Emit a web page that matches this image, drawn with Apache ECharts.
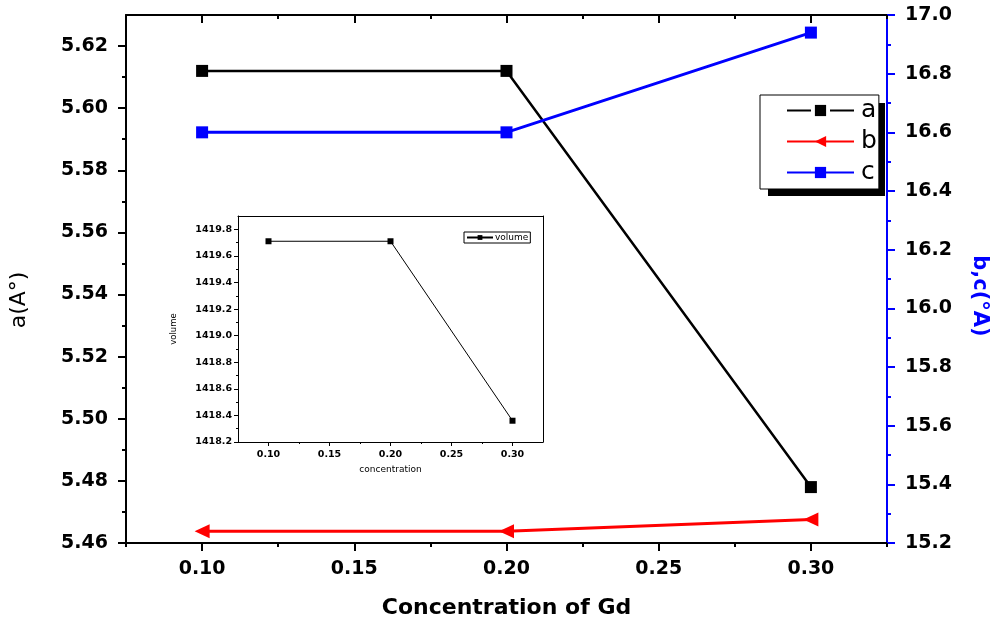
<!DOCTYPE html>
<html>
<head>
<meta charset="utf-8">
<title>Lattice parameters vs Gd concentration</title>
<script src="https://cdn.jsdelivr.net/npm/echarts@6/dist/echarts.min.js"></script>
<style>
  html, body { margin: 0; padding: 0; background: #fff; }
  #chart { width: 1000px; height: 627px; }
</style>
</head>
<body>
<div id="chart"></div>
<script>
// Gd concentration (x) and lattice parameters
const concentration = [0.10, 0.20, 0.30];
const latticeA = [5.612, 5.612, 5.478];
const latticeB = [15.24, 15.24, 15.28];
const latticeC = [16.60, 16.60, 16.94];
const cellVolume = [1419.71, 1419.71, 1418.36];

// Tick positions
const xMajorTicks = [0.10, 0.15, 0.20, 0.25, 0.30];
const xMinorTicks = [0.075, 0.125, 0.175, 0.225, 0.275, 0.325];
const aMajorTicks = [5.46, 5.48, 5.50, 5.52, 5.54, 5.56, 5.58, 5.60, 5.62];
const aMinorTicks = [5.47, 5.49, 5.51, 5.53, 5.55, 5.57, 5.59, 5.61];
const bcMajorTicks = [15.2, 15.4, 15.6, 15.8, 16.0, 16.2, 16.4, 16.6, 16.8, 17.0];
const bcMinorTicks = [15.3, 15.5, 15.7, 15.9, 16.1, 16.3, 16.5, 16.7, 16.9];
const volMajorTicks = [1418.2, 1418.4, 1418.6, 1418.8, 1419.0, 1419.2, 1419.4, 1419.6, 1419.8];
const volMinorTicks = [1418.3, 1418.5, 1418.7, 1418.9, 1419.1, 1419.3, 1419.5, 1419.7];
const insetXMinorTicks = [0.125, 0.175, 0.225, 0.275];

const FONT = 'DejaVu Sans';
const pairs = (xs, ys) => xs.map((x, i) => [x, ys[i]]);

// Builds a value axis; ticks/labels come from explicit value lists
function axis(o) {
  return {
    type: 'value',
    gridIndex: o.grid,
    position: o.position,
    min: o.min,
    max: o.max,
    name: o.name || '',
    nameLocation: 'middle',
    nameGap: o.nameGap,
    nameRotate: o.nameRotate,
    nameTextStyle: o.nameTextStyle,
    axisLine: { show: o.line !== false, onZero: false,
      lineStyle: { color: o.color || '#000', width: o.lineWidth || 2 } },
    axisTick: o.ticks ? { show: true, customValues: o.ticks, inside: !!o.inside,
      length: o.tickLen, lineStyle: { color: o.color || '#000', width: o.tickWidth || 2 } }
      : { show: false },
    axisLabel: o.labels ? { show: true, customValues: o.labels, margin: o.margin,
      formatter: v => v.toFixed(o.digits),
      color: '#000', fontFamily: FONT, fontWeight: 'bold', fontSize: o.fontSize }
      : { show: false },
    splitLine: { show: false },
    minorTick: { show: false },
    minorSplitLine: { show: false }
  };
}

const chart = echarts.init(document.getElementById('chart'), null, { renderer: 'canvas' });

const option = {
  backgroundColor: '#fff',
  animation: false,
  grid: [
    { left: 126, right: 113, top: 15, bottom: 84, containLabel: false },
    { left: 238, top: 216, width: 305, height: 226, containLabel: false,
      show: true, backgroundColor: '#fff', borderWidth: 0 }
  ],
  // solid drop shadow behind the main legend box
  graphic: [
    { type: 'rect', z: 1, silent: true,
      shape: { x: 768, y: 103, width: 117, height: 93 },
      style: { fill: '#000' } }
  ],
  xAxis: [
    // main plot
    axis({ grid: 0, position: 'bottom', min: 0.075, max: 0.325, ticks: xMajorTicks, tickLen: 8,
      labels: xMajorTicks, digits: 2, margin: 17, fontSize: 19,
      name: 'Concentration of Gd', nameGap: 54,
      nameTextStyle: { fontFamily: FONT, fontWeight: 'bold', fontSize: 22, color: '#000' } }),
    axis({ grid: 0, position: 'bottom', min: 0.075, max: 0.325, line: false, ticks: xMinorTicks, tickLen: 4 }),
    axis({ grid: 0, position: 'top', min: 0.075, max: 0.325, ticks: xMajorTicks, tickLen: 8, inside: true }),
    axis({ grid: 0, position: 'top', min: 0.075, max: 0.325, line: false, ticks: xMinorTicks, tickLen: 4, inside: true }),
    // inset
    axis({ grid: 1, position: 'bottom', min: 0.075, max: 0.325, lineWidth: 1, tickWidth: 1,
      ticks: xMajorTicks, tickLen: 4, labels: xMajorTicks, digits: 2, margin: 8, fontSize: 9.5,
      name: 'concentration', nameGap: 23,
      nameTextStyle: { fontFamily: FONT, fontSize: 9, color: '#000' } }),
    axis({ grid: 1, position: 'bottom', min: 0.075, max: 0.325, line: false, tickWidth: 1,
      ticks: insetXMinorTicks, tickLen: 2 }),
    axis({ grid: 1, position: 'top', min: 0.075, max: 0.325, lineWidth: 1 })
  ],
  yAxis: [
    // main plot, left: a  (padding on the text's far end nudges it downwards)
    axis({ grid: 0, position: 'left', min: 5.46, max: 5.63, ticks: aMajorTicks, tickLen: 8,
      labels: aMajorTicks, digits: 2, margin: 18, fontSize: 19,
      name: 'a(A\u00B0)', nameGap: 96, nameRotate: 90,
      nameTextStyle: { fontFamily: FONT, fontSize: 22, color: '#000', padding: [0, 42, 0, 0] } }),
    axis({ grid: 0, position: 'left', min: 5.46, max: 5.63, line: false, ticks: aMinorTicks, tickLen: 4 }),
    // main plot, right: b, c
    axis({ grid: 0, position: 'right', min: 15.2, max: 17.0, color: '#0000ff',
      ticks: bcMajorTicks, tickLen: 8, labels: bcMajorTicks, digits: 1, margin: 18, fontSize: 19,
      name: 'b,c(\u00B0A)', nameGap: 82, nameRotate: -90,
      nameTextStyle: { fontFamily: FONT, fontWeight: 'bold', fontSize: 21, color: '#0000ff',
        padding: [0, 0, 0, 34] } }),
    axis({ grid: 0, position: 'right', min: 15.2, max: 17.0, line: false, color: '#0000ff',
      ticks: bcMinorTicks, tickLen: 4 }),
    // inset
    axis({ grid: 1, position: 'left', min: 1418.2, max: 1419.9, lineWidth: 1, tickWidth: 1,
      ticks: volMajorTicks, tickLen: 4, labels: volMajorTicks, digits: 1, margin: 6, fontSize: 9.5,
      name: 'volume', nameGap: 60, nameRotate: 90,
      nameTextStyle: { fontFamily: FONT, fontSize: 8.5, color: '#000' } }),
    axis({ grid: 1, position: 'left', min: 1418.2, max: 1419.9, line: false, tickWidth: 1,
      ticks: volMinorTicks, tickLen: 2 }),
    axis({ grid: 1, position: 'right', min: 1418.2, max: 1419.9, lineWidth: 1 })
  ],
  legend: [
    {
      data: [
        { name: 'a', lineStyle: { type: [24, 19] } },
        { name: 'b' },
        { name: 'c' }
      ],
      orient: 'vertical',
      left: 760, top: 95,
      z: 5,
      padding: [3, 2, 4, 26],
      itemGap: 6,
      itemWidth: 67, itemHeight: 14,
      backgroundColor: '#fff',
      borderColor: '#000', borderWidth: 1, borderRadius: 0,
      textStyle: { fontFamily: FONT, fontSize: 25, color: '#000', padding: [0, 0, 0, 2] }
    },
    {
      data: ['volume'],
      orient: 'horizontal',
      left: 464, top: 232,
      padding: [1, 2, 1, 2],
      itemWidth: 26, itemHeight: 6,
      backgroundColor: '#fff',
      borderColor: '#000', borderWidth: 1, borderRadius: 0,
      textStyle: { fontFamily: FONT, fontSize: 9, color: '#000', padding: [0, 0, 0, -3] }
    }
  ],
  series: [
    {
      name: 'a', type: 'line', xAxisIndex: 0, yAxisIndex: 0,
      data: pairs(concentration, latticeA),
      symbol: 'rect', symbolSize: 12,
      lineStyle: { color: '#000', width: 2.5 },
      itemStyle: { color: '#000' }
    },
    {
      name: 'b', type: 'line', xAxisIndex: 0, yAxisIndex: 2,
      data: pairs(concentration, latticeB),
      symbol: 'triangle', symbolSize: [14, 15], symbolRotate: 90,
      lineStyle: { color: '#ff0000', width: 3 },
      itemStyle: { color: '#ff0000' }
    },
    {
      name: 'c', type: 'line', xAxisIndex: 0, yAxisIndex: 2,
      data: pairs(concentration, latticeC),
      symbol: 'rect', symbolSize: 12,
      lineStyle: { color: '#0000ff', width: 3 },
      itemStyle: { color: '#0000ff' }
    },
    {
      name: 'volume', type: 'line', xAxisIndex: 4, yAxisIndex: 4,
      data: pairs(concentration, cellVolume),
      symbol: 'rect', symbolSize: 6,
      lineStyle: { color: '#000', width: 1 },
      itemStyle: { color: '#000' }
    }
  ]
};

chart.setOption(option);
</script>
</body>
</html>
